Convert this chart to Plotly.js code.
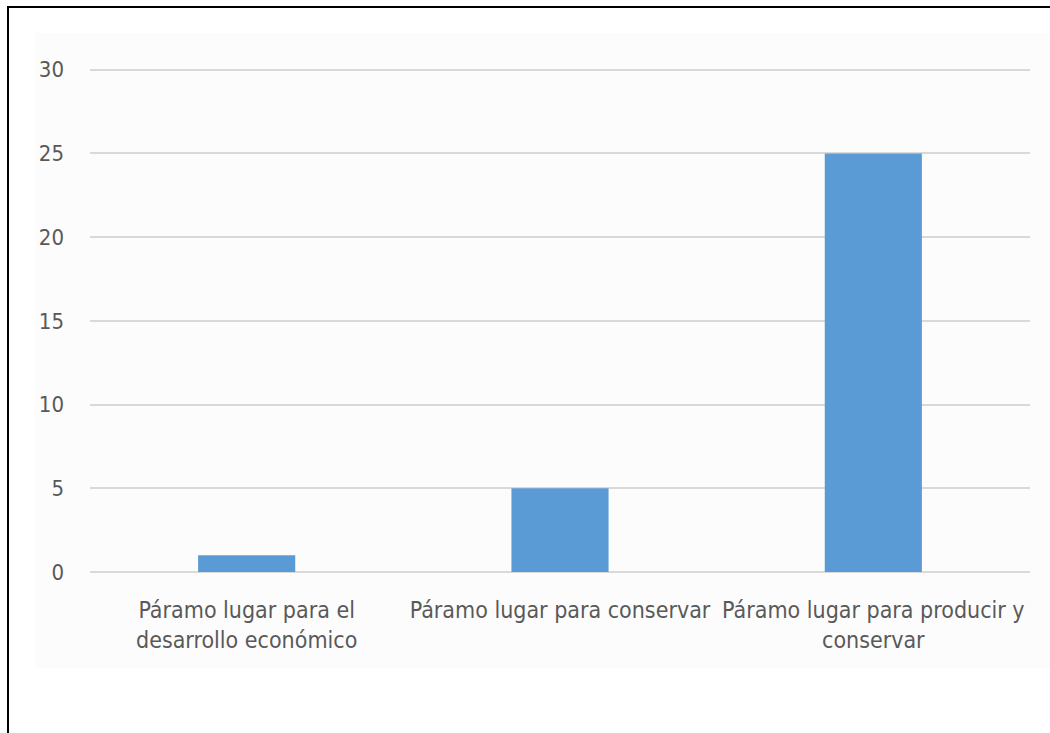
<!DOCTYPE html>
<html>
<head>
<meta charset="utf-8">
<script src="https://cdn.plot.ly/plotly-3.0.1.min.js"></script>
<style>
  html, body { margin:0; padding:0; background:#ffffff; overflow:hidden; }
  #bg { position:absolute; left:35px; top:33px; width:1015px; height:635px; background:#fcfcfc; }
  #frame { position:absolute; left:7px; top:6px; width:1100px; height:800px; border-left:2px solid #000; border-top:2px solid #000; pointer-events:none; }
  #chart { position:absolute; left:0; top:0; width:1050px; height:733px; }
</style>
</head>
<body>
<div id="bg"></div>
<div id="chart"></div>
<div id="frame"></div>
<script>
const categories = [
  "Páramo lugar para el<br>desarrollo económico",
  "Páramo lugar para conservar",
  "Páramo lugar para producir y<br>conservar"
];
const values = [1, 5, 25];
const yTicks = [0, 5, 10, 15, 20, 25, 30];

const font = "DejaVu Sans Condensed, Liberation Sans Narrow, Arial Narrow, sans-serif";

Plotly.newPlot('chart', [{
  type: 'bar',
  x: categories,
  y: values,
  marker: { color: '#5b9bd5' },
  hoverinfo: 'none'
}], {
  width: 1050,
  height: 733,
  margin: { l: 90, r: 20, t: 68, b: 161 },
  paper_bgcolor: 'rgba(0,0,0,0)',
  plot_bgcolor: 'rgba(0,0,0,0)',
  bargap: 0.69,
  showlegend: false,
  font: { family: font, color: '#595959', size: 22 },
  xaxis: {
    type: 'category',
    showgrid: false,
    showline: false,
    ticks: '',
    tickfont: { family: font, size: 23, color: '#595959' },
    ticklabelstandoff: 22,
    automargin: false
  },
  yaxis: {
    range: [0, 30.1],
    tickvals: yTicks,
    ticktext: yTicks.map(String),
    showgrid: true,
    gridcolor: '#d9d9d9',
    gridwidth: 2,
    zeroline: true,
    zerolinecolor: '#d9d9d9',
    zerolinewidth: 2,
    showline: false,
    ticks: '',
    tickfont: { family: font, size: 22, color: '#595959' },
    ticklabelstandoff: 25,
    automargin: false
  }
}, { staticPlot: true, displayModeBar: false });
</script>
</body>
</html>
